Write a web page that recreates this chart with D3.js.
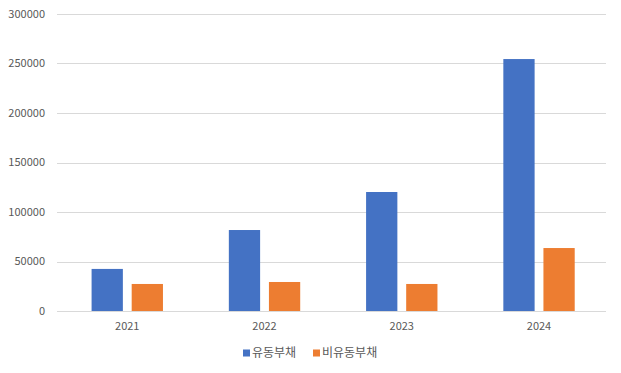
<!DOCTYPE html>
<html>
<head>
<meta charset="utf-8">
<script src="https://cdn.jsdelivr.net/npm/d3@7"></script>
<style>
  body { margin: 0; background: #fff; }
  text { font-family: "Noto Sans CJK KR", "Noto Sans", sans-serif; fill: #595959; }
</style>
</head>
<body>
<div id="chart"></div>
<script>
let years = ["2021", "2022", "2023", "2024"];
let seriesNames = ["유동부채", "비유동부채"];
let current = [42500, 81800, 120200, 254500];
let nonCurrent = [27300, 29300, 27300, 63600];
let yTicks = [0, 50000, 100000, 150000, 200000, 250000, 300000];
let colors = ["#4472c4", "#ed7d31"];

let width = 621, height = 373;
let margin = { top: 14, right: 15, bottom: 62, left: 57 };

let svg = d3.select("#chart")
    .append("svg")
    .attr("width", width)
    .attr("height", height);

let x0 = d3.scaleBand()
    .domain(years)
    .range([margin.left, width - margin.right]);
let bw = x0.bandwidth();
let x1 = d3.scaleBand()
    .domain(seriesNames)
    .range([bw * 0.252, bw * 0.772])
    .paddingInner(0.22);
let y = d3.scaleLinear()
    .domain([0, 300000])
    .range([height - margin.bottom, margin.top]);

// gridlines
svg.append("g")
    .selectAll("line")
    .data(yTicks)
    .enter()
    .append("line")
    .attr("x1", margin.left)
    .attr("x2", width - margin.right)
    .attr("y1", d => Math.round(y(d)) + 0.5)
    .attr("y2", d => Math.round(y(d)) + 0.5)
    .attr("stroke", "#d9d9d9")
    .attr("stroke-width", 1);

// y labels
svg.append("g")
    .selectAll("text")
    .data(yTicks)
    .enter()
    .append("text")
    .attr("x", 45)
    .attr("y", d => y(d))
    .attr("dy", "0.35em")
    .attr("text-anchor", "end")
    .style("font-size", "11px")
    .text(d => d);

let rows = years.map((yr, i) => ({ year: yr, values: [current[i], nonCurrent[i]] }));

let groups = svg.append("g")
    .selectAll("g")
    .data(rows)
    .enter()
    .append("g")
    .attr("transform", d => "translate(" + x0(d.year) + ",0)");

groups.selectAll("rect")
    .data(d => d.values.map((v, j) => ({ key: seriesNames[j], v: v, j: j })))
    .enter()
    .append("rect")
    .attr("x", d => x1(d.key))
    .attr("y", d => y(d.v))
    .attr("width", x1.bandwidth())
    .attr("height", d => y(0) - y(d.v))
    .attr("fill", d => colors[d.j]);

// x labels
svg.append("g")
    .selectAll("text")
    .data(years)
    .enter()
    .append("text")
    .attr("x", d => x0(d) + bw * 0.512)
    .attr("y", 326)
    .attr("dy", "0.35em")
    .attr("text-anchor", "middle")
    .style("font-size", "11px")
    .text(d => d);

// legend
let legendX = [243, 313];
let legend = svg.append("g")
    .selectAll("g")
    .data(seriesNames)
    .enter()
    .append("g")
    .attr("transform", (d, i) => "translate(" + legendX[i] + ",353)");
legend.append("rect")
    .attr("x", 0)
    .attr("y", -3.5)
    .attr("width", 7)
    .attr("height", 7)
    .attr("fill", (d, i) => colors[i]);
legend.append("text")
    .attr("x", 9)
    .attr("y", 0)
    .attr("dy", "0.35em")
    .style("font-size", "12px")
    .text(d => d);
</script>
</body>
</html>
